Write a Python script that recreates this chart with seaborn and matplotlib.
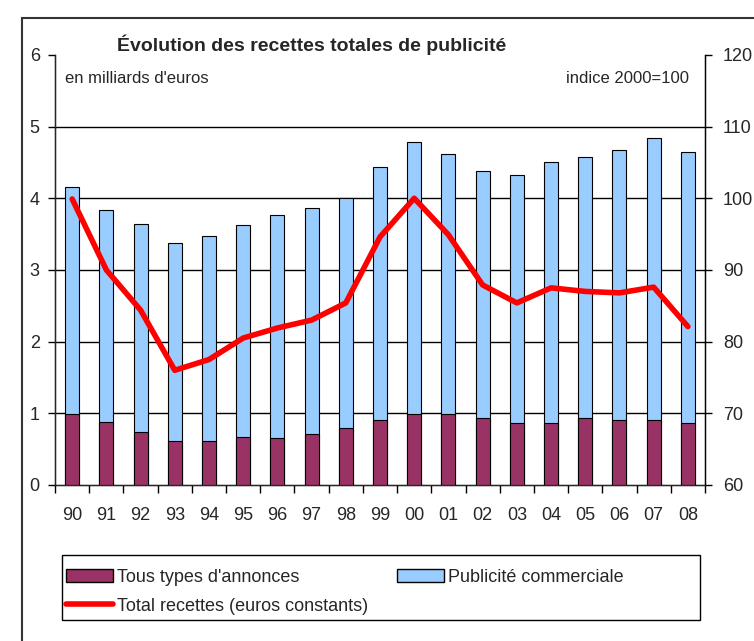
import seaborn as sns
import matplotlib.pyplot as plt
import matplotlib.patches as mpatches
import numpy as np
import pandas as pd

# Data
years = ["90", "91", "92", "93", "94", "95", "96", "97", "98", "99",
         "00", "01", "02", "03", "04", "05", "06", "07", "08"]
# total bar height = annonces + publicité commerciale (milliards d'euros)
total_bar = [4.16, 3.84, 3.64, 3.37, 3.48, 3.62, 3.76, 3.87, 4.01, 4.43,
             4.78, 4.62, 4.38, 4.33, 4.50, 4.58, 4.67, 4.84, 4.64]
annonces = [0.99, 0.88, 0.74, 0.62, 0.62, 0.67, 0.65, 0.71, 0.79, 0.91,
            0.99, 0.99, 0.93, 0.87, 0.87, 0.93, 0.90, 0.90, 0.87]
# Total recettes, euros constants (indice 2000=100)
indice = [99.9, 90.0, 84.4, 76.0, 77.5, 80.5, 81.9, 83.0, 85.4, 94.6,
          100.0, 94.9, 87.9, 85.4, 87.5, 87.0, 86.8, 87.6, 82.1]

df = pd.DataFrame({"annee": years, "total": total_bar,
                   "annonces": annonces, "indice": indice})

maroon = "#993366"
blue = "#99CCFF"
red = "#FF0000"

sns.set_style("white")
plt.rcParams["font.family"] = ["Liberation Sans", "DejaVu Sans"]

fig = plt.figure(figsize=(7.54, 6.41), dpi=100)
ax = fig.add_axes([0.073, 0.2434, 0.862, 0.671])

# stacked bars: full height in blue, bottom part in maroon over it
sns.barplot(data=df, x="annee", y="total", color=blue, width=0.41,
            edgecolor="black", linewidth=0.8, saturation=1, ax=ax, zorder=3)
sns.barplot(data=df, x="annee", y="annonces", color=maroon, width=0.41,
            edgecolor="black", linewidth=0.8, saturation=1, ax=ax, zorder=4)

ax.set_ylim(0, 6)
ax.set_xlim(-0.5, len(years) - 0.5)
ax.set_yticks(range(0, 7))
for v in range(1, 6):
    ax.axhline(v, color="black", linewidth=1, zorder=1)
ax.set_xlabel("")
ax.set_ylabel("")
ax.spines["top"].set_visible(False)
for s in ["left", "bottom", "right"]:
    ax.spines[s].set_color("black")
    ax.spines[s].set_linewidth(1)
ax.tick_params(axis="y", direction="out", length=5, width=1, color="black",
               labelsize=13, pad=6, left=True)
ax.tick_params(axis="x", which="major", length=0, labelsize=13, pad=16)
ax.set_xticks(np.arange(len(years) + 1) - 0.5, minor=True)
ax.tick_params(axis="x", which="minor", direction="out", length=6, width=1,
               color="black", bottom=True)

# line on secondary axis
ax2 = ax.twinx()
sns.pointplot(data=df, x="annee", y="indice", color=red, marker="",
              linewidth=4, ax=ax2)
ax2.set_xlim(-0.5, len(years) - 0.5)
ax2.set_ylim(60, 120)
ax2.set_yticks(range(60, 121, 10))
ax2.set_ylabel("")
ax2.set_xlabel("")
ax2.spines["top"].set_visible(False)
ax2.spines["right"].set_color("black")
ax2.tick_params(axis="y", direction="out", length=5, width=1, color="black",
                labelsize=13, pad=8, right=True)

# texts
fig.text(0.155, 0.930, "Évolution des recettes totales de publicité",
         fontsize=14, fontweight="bold", va="center", ha="left")
ax.text(0.015, 0.945, "en milliards d'euros", transform=ax.transAxes,
        fontsize=12, va="center", ha="left")
ax.text(0.975, 0.945, "indice 2000=100", transform=ax.transAxes,
        fontsize=12, va="center", ha="right")

# outer chart frame
fig.add_artist(mpatches.Rectangle((0.029, -0.02), 1.1, 0.992, fill=False,
                                  edgecolor="#333333", linewidth=1.5,
                                  transform=fig.transFigure))

# legend (box drawn separately so the second column sits mid-box)
fig.add_artist(mpatches.Rectangle((0.082, 0.033), 0.846, 0.101, fill=False,
                                  edgecolor="black", linewidth=1,
                                  transform=fig.transFigure))
handles = [mpatches.Patch(facecolor=maroon, edgecolor="black", label="Tous types d'annonces"),
           plt.Line2D([], [], color=red, linewidth=4, label="Total recettes (euros constants)"),
           mpatches.Patch(facecolor=blue, edgecolor="black", label="Publicité commerciale")]
fig.legend(handles=handles, ncol=2, loc="upper left",
           bbox_to_anchor=(0.081, 0.121), fontsize=13, frameon=False,
           handlelength=2.6, handletextpad=0.2, borderaxespad=0,
           labelspacing=0.65, borderpad=0.3, columnspacing=1.6)

plt.savefig("out.png", dpi=100)
plt.close()
